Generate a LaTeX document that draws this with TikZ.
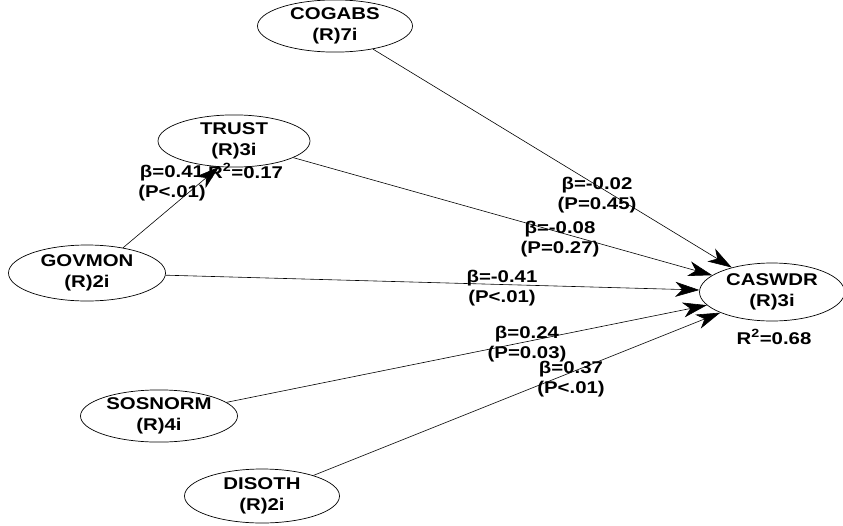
\documentclass[tikz,border=0pt]{standalone}
\usepackage{fontspec}
\setmainfont{Liberation Sans}[FakeStretch=1.2]
\usetikzlibrary{shapes.geometric,arrows.meta}
\begin{document}
\begin{tikzpicture}[x=1pt,y=-1pt,
  lv/.style={draw=black,line width=0.7pt,ellipse,inner sep=0pt,align=center,font=\fontsize{17}{21.5}\selectfont\bfseries},
  path/.style={draw=black,line width=0.6pt,-{Stealth[length=24pt,width=15pt,inset=7pt]}},
  lab/.style={align=center,inner sep=0pt,font=\fontsize{17}{20}\selectfont\bfseries}]
\useasboundingbox (0,0) rectangle (843,525);
\node[lv,minimum width=155pt,minimum height=52pt] (cog) at (335,26) {COGABS\\(R)7i};
\node[lv,minimum width=152pt,minimum height=48pt] (tru) at (234,141) {TRUST\\(R)3i};
\node[lv,minimum width=157pt,minimum height=56pt] (gov) at (87,273) {GOVMON\\(R)2i};
\node[lv,minimum width=145pt,minimum height=58pt] (cas) at (772,292) {CASWDR\\(R)3i};
\node[lv,minimum width=157pt,minimum height=52pt] (sos) at (159,416) {SOSNORM\\(R)4i};
\node[lv,minimum width=155pt,minimum height=54pt] (dis) at (262,496) {DISOTH\\(R)2i};
\draw[path] (cog) -- (cas);
\draw[path] (tru) -- (cas);
\draw[path] (gov) -- (cas);
\draw[path] (sos) -- (cas);
\draw[path] (dis) -- (cas);
\draw[path] (gov.35) -- (tru.240);
\node[lab] (l1) at (172,183) {β=0.41\\(P<.01)};
\node[lab,anchor=base west] (r1) at (208,178) {R\textsuperscript{2}=0.17};
\node[lab] (l2) at (597,195) {β=-0.02\\(P=0.45)};
\node[lab] (l3) at (560,239) {β=-0.08\\(P=0.27)};
\node[lab] (l4) at (502,288) {β=-0.41\\(P<.01)};
\node[lab] (l5) at (527,344) {β=0.24\\(P=0.03)};
\node[lab] (l6) at (571,379) {β=0.37\\(P<.01)};
\node[lab] (r2) at (774,337) {R\textsuperscript{2}=0.68};
\end{tikzpicture}
\end{document}
